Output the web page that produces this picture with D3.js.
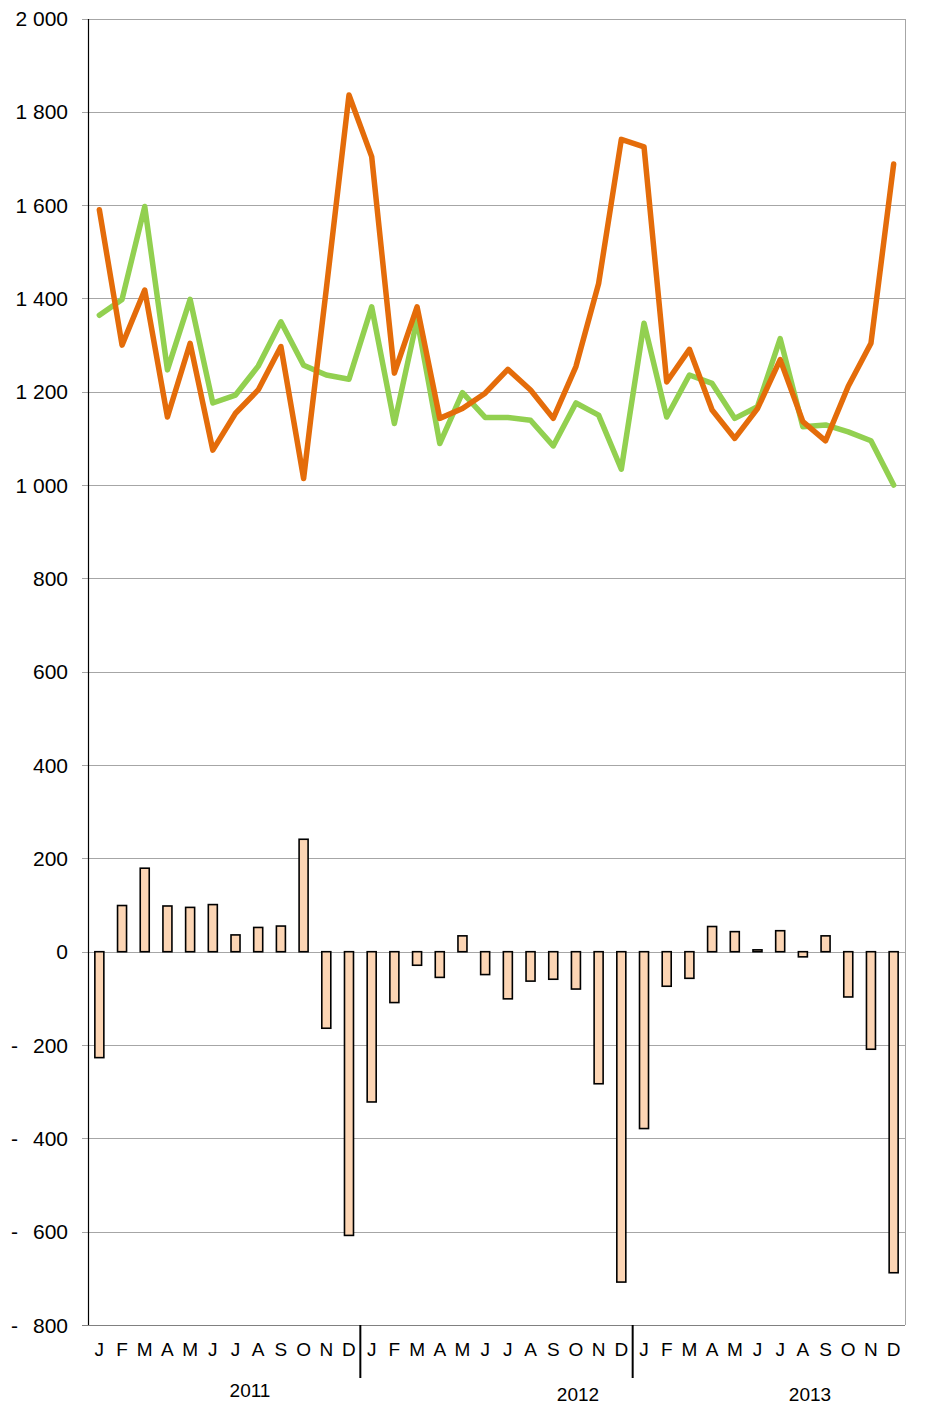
<!DOCTYPE html>
<html>
<head>
<meta charset="utf-8">
<script src="https://cdn.jsdelivr.net/npm/d3@7.9.0/dist/d3.min.js"></script>
<style>
  body { margin: 0; background: #fff; }
  svg { display: block; font-family: "Liberation Sans", Arial, sans-serif; }
</style>
</head>
<body>
<svg id="chart" width="940" height="1406"></svg>
<script>
const years = ["2011", "2012", "2013"];
const monthLetters = ["J", "F", "M", "A", "M", "J", "J", "A", "S", "O", "N", "D"];

// orange series
const orangeValues = [
  1590, 1300, 1418, 1146, 1304, 1075, 1154, 1204, 1297, 1014, 1420, 1836,
  1704, 1240, 1382, 1143, 1164, 1197, 1248, 1204, 1143, 1254, 1432, 1741,
  1725, 1221, 1291, 1161, 1100, 1164, 1269, 1136, 1095, 1212, 1304, 1688
];
// green series
const greenValues = [
  1364, 1398, 1597, 1247, 1398, 1176, 1193, 1255, 1350, 1257, 1236, 1227,
  1382, 1132, 1355, 1089, 1198, 1145, 1145, 1139, 1084, 1176, 1150, 1034,
  1347, 1146, 1236, 1218, 1143, 1168, 1314, 1125, 1129, 1114, 1095, 1000
];
// bars
const barValues = [
  -227, 99, 179, 98, 95, 101, 36, 52, 55, 241, -164, -608,
  -322, -109, -29, -55, 34, -49, -101, -63, -59, -80, -283, -708,
  -379, -74, -57, 54, 43, 4, 45, -11, 34, -97, -209, -688
];
const yTicks = [2000, 1800, 1600, 1400, 1200, 1000, 800, 600, 400, 200, 0, -200, -400, -600, -800];
const yearLabelX = [250, 578, 810];

const svg = d3.select("#chart");
const plotLeft = 88, plotRight = 905, plotTop = 18.5, plotBottom = 1325;

const keys = d3.range(36);
const x = d3.scaleBand().domain(keys).range([plotLeft, plotRight]);
const y = d3.scaleLinear().domain([-800, 2000]).range([plotBottom, plotTop]);
const cx = (i) => x(i) + x.bandwidth() / 2;

// gridlines
svg.append("g")
  .selectAll("line")
  .data(yTicks)
  .enter()
  .append("line")
  .attr("x1", plotLeft - 6)
  .attr("x2", plotRight)
  .attr("y1", (d) => Math.round(y(d)) + 0.5)
  .attr("y2", (d) => Math.round(y(d)) + 0.5)
  .attr("stroke", (d) => d === -800 ? "#808080" : "#a6a6a6")
  .attr("stroke-width", 1);

// right border
svg.append("line")
  .attr("x1", plotRight + 0.5).attr("x2", plotRight + 0.5)
  .attr("y1", Math.round(y(2000))).attr("y2", plotBottom)
  .attr("stroke", "#a6a6a6");

// y labels
const fmt = (v) => d3.format(",")(Math.abs(v)).replace(/,/g, " ");
const yl = svg.append("g").attr("font-size", 21).attr("fill", "#000");
yTicks.forEach((v) => {
  yl.append("text")
    .attr("x", 68)
    .attr("y", y(v) + 7.5)
    .attr("text-anchor", "end")
    .text(fmt(v));
  if (v < 0) {
    yl.append("text")
      .attr("x", 11)
      .attr("y", y(v) + 7.5)
      .text("-");
  }
});

// bars
svg.append("g")
  .selectAll("rect")
  .data(barValues)
  .enter()
  .append("rect")
  .attr("x", (d, i) => cx(i) - 4.5)
  .attr("width", 9)
  .attr("y", (d) => y(Math.max(0, d)))
  .attr("height", (d) => Math.max(1, Math.abs(y(d) - y(0))))
  .attr("fill", "#fcd5b4")
  .attr("stroke", "#000")
  .attr("stroke-width", 1.6);

// lines
const line = d3.line().x((d, i) => cx(i)).y((d) => y(d));

svg.append("path")
  .datum(greenValues)
  .attr("d", line)
  .attr("fill", "none")
  .attr("stroke", "#92d050")
  .attr("stroke-width", 5.5)
  .attr("stroke-linejoin", "round")
  .attr("stroke-linecap", "round");

svg.append("path")
  .datum(orangeValues)
  .attr("d", line)
  .attr("fill", "none")
  .attr("stroke", "#e46c0a")
  .attr("stroke-width", 5.5)
  .attr("stroke-linejoin", "round")
  .attr("stroke-linecap", "round");

// left axis line
svg.append("line")
  .attr("x1", plotLeft + 0.5).attr("x2", plotLeft + 0.5)
  .attr("y1", Math.round(y(2000))).attr("y2", plotBottom)
  .attr("stroke", "#000")
  .attr("stroke-width", 1.2);

// month labels
svg.append("g")
  .selectAll("text")
  .data(keys)
  .enter()
  .append("text")
  .attr("x", (d) => cx(d))
  .attr("y", 1356)
  .attr("text-anchor", "middle")
  .attr("font-size", 19)
  .text((d) => monthLetters[d % 12]);

// year separators
[12, 24].forEach((k) => {
  svg.append("line")
    .attr("x1", x(k)).attr("x2", x(k))
    .attr("y1", plotBottom).attr("y2", 1378)
    .attr("stroke", "#000")
    .attr("stroke-width", 2);
});

// year labels
svg.append("g")
  .selectAll("text")
  .data(years)
  .enter()
  .append("text")
  .attr("x", (d, i) => yearLabelX[i])
  .attr("y", (d, i) => i === 0 ? 1397 : 1401)
  .attr("text-anchor", "middle")
  .attr("font-size", 19)
  .text((d) => d);
</script>
</body>
</html>
